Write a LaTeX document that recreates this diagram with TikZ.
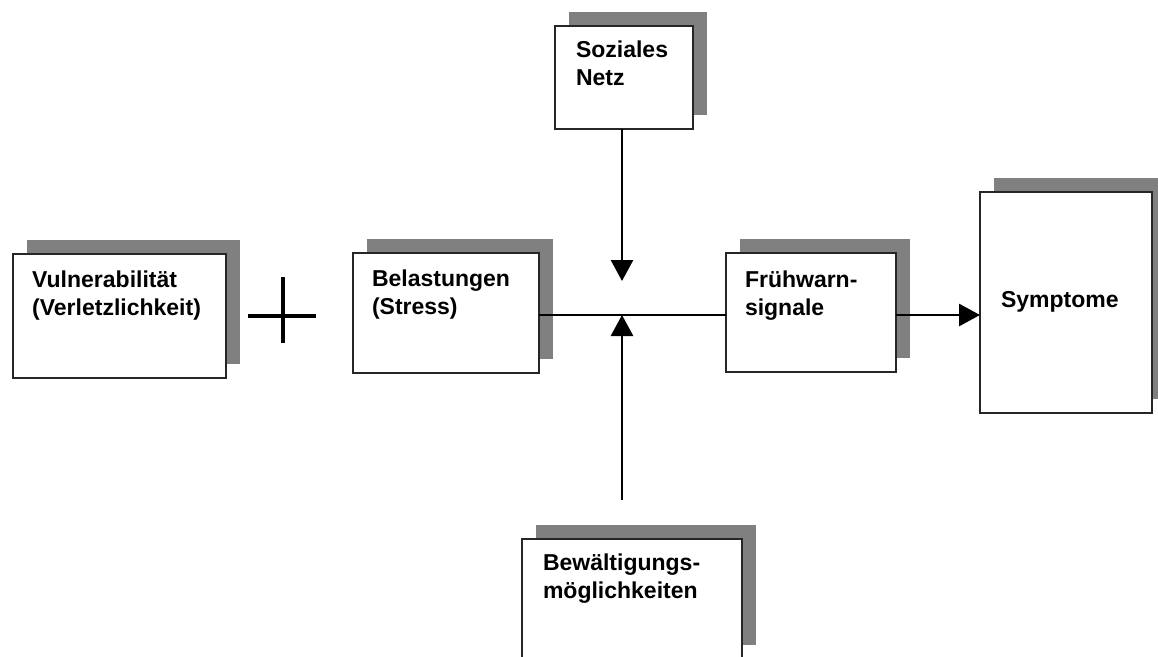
\documentclass[tikz,border=0pt]{standalone}
\usepackage{fontspec}
\setmainfont{Liberation Sans}
\usetikzlibrary{arrows.meta,shadows,calc}

% two left-aligned lines whose baseline is the first line
\newcommand{\twoline}[2]{\begin{tabular}[t]{@{}l@{}}#1\\#2\end{tabular}}

\begin{document}
\begin{tikzpicture}[x=1pt,y=-1pt,
  box/.style={draw=black!85, line width=1.6pt, fill=white, inner sep=0pt, outer sep=0pt,
    anchor=north west,
    drop shadow={shadow xshift=14pt, shadow yshift=14pt, opacity=1, fill=black!50}},
  boxtext/.style={anchor=base west, inner sep=0pt, outer sep=0pt,
    font=\fontsize{23}{28.5}\selectfont\bfseries},
  link/.style={line width=2.8pt, black},
  arr/.style={link, -{Triangle[length=21pt,width=22pt]}},
  plusbar/.style={line width=3.4pt, black}]

  \useasboundingbox[fill=white] (0,0) rectangle (1158,656);

  % boxes
  \node[box, minimum width=213pt, minimum height=124pt] (vul) at (12.7,254) {};
  \node[box, minimum width=186pt, minimum height=120pt] (bel) at (353,253) {};
  \node[box, minimum width=138pt, minimum height=103pt] (soz) at (555,26) {};
  \node[box, minimum width=220pt, minimum height=120pt] (bew) at (522,539) {};
  \node[box, minimum width=170pt, minimum height=119pt] (fru) at (726,253) {};
  \node[box, minimum width=172pt, minimum height=221pt] (sym) at (980,192) {};

  % box texts
  \node[boxtext] (vultext) at ($(vul.north west)+(19.5,33)$) {\twoline{Vulnerabilität}{(Verletzlichkeit)}};
  \node[boxtext] (beltext) at ($(bel.north west)+(19,33)$) {\twoline{Belastungen}{(Stress)}};
  \node[boxtext] (soztext) at ($(soz.north west)+(21,31)$) {\twoline{Soziales}{Netz}};
  \node[boxtext] (bewtext) at ($(bew.north west)+(21,31)$) {\twoline{Bewältigungs-}{möglichkeiten}};
  \node[boxtext] (frutext) at ($(fru.north west)+(19,34)$) {\twoline{Frühwarn-}{signale}};
  \node[boxtext] (symtext) at ($(sym.north west)+(21,115)$) {Symptome};

  % plus sign
  \coordinate (plusc) at (283,316);
  \draw[plusbar] ($(plusc)+(-35,0)$) -- ($(plusc)+(33,0)$);
  \draw[plusbar] ($(plusc)+(0,-39)$) -- ($(plusc)+(0,27)$);

  % connectors
  \coordinate (J) at (622,315);
  \coordinate (dtip) at (622,281);
  \coordinate (ubase) at (622,500);
  \draw[link] (bel.east |- J) -- (fru.west |- J);
  \draw[arr] (fru.east |- J) -- (sym.west |- J);
  \draw[arr] (soz.south -| J) -- (dtip);
  \draw[arr] (ubase) -- (J);
\end{tikzpicture}
\end{document}
